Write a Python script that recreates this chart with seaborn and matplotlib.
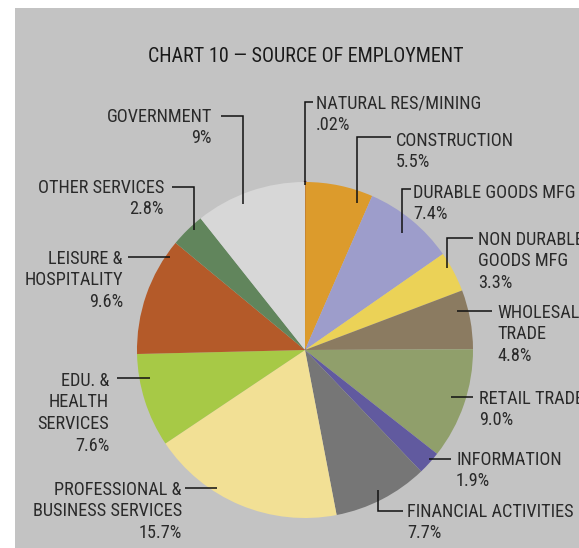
import matplotlib
matplotlib.use("Agg")
import matplotlib.pyplot as plt
from matplotlib.patches import Rectangle
import seaborn as sns

# Employment shares by sector (percent)
categories = [
    "NATURAL RES/MINING", "CONSTRUCTION", "DURABLE GOODS MFG",
    "NON DURABLE\nGOODS MFG", "WHOLESALE\nTRADE", "RETAIL TRADE",
    "INFORMATION", "FINANCIAL ACTIVITIES", "PROFESSIONAL &\nBUSINESS SERVICES",
    "EDU. &\nHEALTH\nSERVICES", "LEISURE &\nHOSPITALITY", "OTHER SERVICES",
    "GOVERNMENT",
]
values = [0.02, 5.5, 7.4, 3.3, 4.8, 9.0, 1.9, 7.7, 15.7, 7.6, 9.6, 2.8, 9.0]
value_labels = [".02%", "5.5%", "7.4%", "3.3%", "4.8%", "9.0%", "1.9%",
                "7.7%", "15.7%", "7.6%", "9.6%", "2.8%", "9%"]
colors = sns.color_palette([
    "#6A2447", "#DC9B2C", "#9D9DCB", "#EBD257", "#8B7B61", "#909F6B",
    "#615A9F", "#767676", "#F2E095", "#A7C946", "#B45A29", "#61855C",
    "#D7D7D7",
])
title = "CHART 10 \u2014 SOURCE OF EMPLOYMENT"

sns.set_theme(style="white")
plt.rcParams["font.family"] = ["Roboto Condensed", "DejaVu Sans"]

W, H = 579, 548
fig = plt.figure(figsize=(W / 100, H / 100), dpi=100, facecolor="white")
ax = fig.add_axes([0, 0, 1, 1])

# panel background
ax.add_patch(Rectangle((15, 8), W - 15, H - 8, facecolor="#C3C3C3",
                       edgecolor="none", zorder=0))

# y axis runs downward, so counterclock=True turns clockwise on screen
wedges, _ = ax.pie(values, colors=colors, startangle=-90, counterclock=True,
                   center=(305, 350), radius=168, frame=True,
                   wedgeprops=dict(linewidth=0, edgecolor="none"))
for w in wedges:
    w.set_zorder(2)
wedges[0].set_edgecolor(colors[0])
wedges[0].set_linewidth(1.6)
ax.set_xlim(0, W)
ax.set_ylim(H, 0)
ax.set_aspect("equal")
ax.axis("off")


def size_for_width(text, px):
    """Font size (pt) at which `text` spans `px` pixels."""
    renderer = fig.canvas.get_renderer()
    probe = fig.text(0, 0, text, fontsize=10)
    w = probe.get_window_extent(renderer).width
    probe.remove()
    return 10 * px / w


title_size = size_for_width(title, 315)
label_size = size_for_width("NATURAL RES/MINING", 166)

ax.text(305.5, 55 + 7.5, title, ha="center", va="baseline",
        fontsize=title_size, color="#1a1a1a", zorder=5)

# label placement: x anchor, alignment, first-line centre y
label_layout = [
    (316, "left", 102), (396, "left", 139), (413, "left", 191),
    (478, "left", 238), (497, "left", 311), (479, "left", 397),
    (456, "left", 458), (407, "left", 510), (182, "right", 488),
    (109, "right", 379), (123, "right", 257), (164, "right", 186),
    (212, "right", 115),
]
leaders = [
    [(313, 102), (305, 102), (305, 185)],
    [(391, 137), (357, 137), (357, 203)],
    [(411, 189), (402, 189), (402, 233)],
    [(473, 238), (447, 238), (447, 268)],
    [(492, 311), (457, 311)],
    [(473, 397), (451, 397)],
    [(451, 459), (429, 459)],
    [(403, 511), (378, 511), (378, 490)],
    [(185, 488), (217, 488)],
    [(117, 378), (150, 378)],
    [(128, 257), (170, 257)],
    [(172, 187), (194, 187), (194, 230)],
    [(221, 116), (243, 116), (243, 204)],
]

pitch = 21.6
for name, vlab, (x, ha, y0), path in zip(categories, value_labels,
                                          label_layout, leaders):
    lines = name.split("\n") + [vlab]
    for i, line in enumerate(lines):
        ax.text(x, y0 + i * pitch + 6.8, line, ha=ha, va="baseline",
                fontsize=label_size, color="#2a2a2a", zorder=5)
    xs, ys = zip(*path)
    ax.plot(xs, ys, color="#111111", lw=1.1, solid_capstyle="butt",
            solid_joinstyle="miter", zorder=4)

fig.savefig("out.png", dpi=100, facecolor="white")
